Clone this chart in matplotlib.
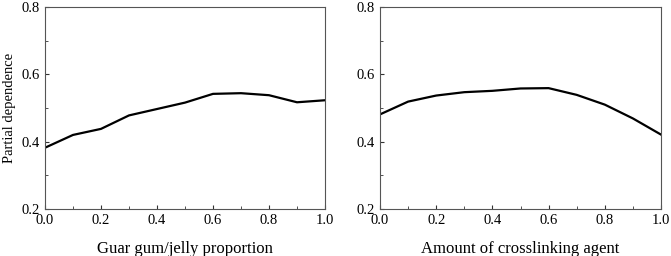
import numpy as np
import matplotlib.pyplot as plt
from matplotlib.ticker import MultipleLocator

plt.rcParams['font.family'] = ['Liberation Serif', 'DejaVu Serif']

# 部分依赖数据
x_vals = [0.0, 0.1, 0.2, 0.3, 0.4, 0.5, 0.6, 0.7, 0.8, 0.9, 1.0]
pd_guar = [0.382, 0.420, 0.438, 0.478, 0.497, 0.516, 0.542, 0.544, 0.538, 0.517, 0.523]
pd_cross = [0.481, 0.519, 0.537, 0.547, 0.551, 0.558, 0.559, 0.539, 0.510, 0.469, 0.421]
x_labels = ['Guar gum/jelly proportion', 'Amount of crosslinking agent']

fig = plt.figure(figsize=(6.71, 2.56), dpi=100)
ax1 = fig.add_axes([45 / 671, 1 - 209 / 256, 280 / 671, 202 / 256])
ax2 = fig.add_axes([380 / 671, 1 - 209 / 256, 281 / 671, 202 / 256])

for ax, y, lab in zip([ax1, ax2], [pd_guar, pd_cross], x_labels):
    ax.plot(x_vals, y, color='black', lw=1.6)
    ax.set_xlim(0, 1)
    ax.set_ylim(0.2, 0.8)
    ax.xaxis.set_major_locator(MultipleLocator(0.2))
    ax.xaxis.set_minor_locator(MultipleLocator(0.1))
    ax.yaxis.set_major_locator(MultipleLocator(0.2))
    ax.yaxis.set_minor_locator(MultipleLocator(0.1))
    ax.tick_params(which='both', direction='in', labelsize=10.5, color='#333333')
    ax.tick_params(which='major', length=3)
    ax.tick_params(which='minor', length=2)
    ax.xaxis.set_major_formatter(lambda v, p: f'{v:.1f}')
    ax.yaxis.set_major_formatter(lambda v, p: f'{v:.1f}')
    for s in ax.spines.values():
        s.set_color('#555555')
        s.set_linewidth(0.8)
    ax.set_xlabel(lab, fontsize=12, labelpad=10)

ax1.set_ylabel('Partial dependence', fontsize=10.5)

fig.savefig('out.png', dpi=100)
